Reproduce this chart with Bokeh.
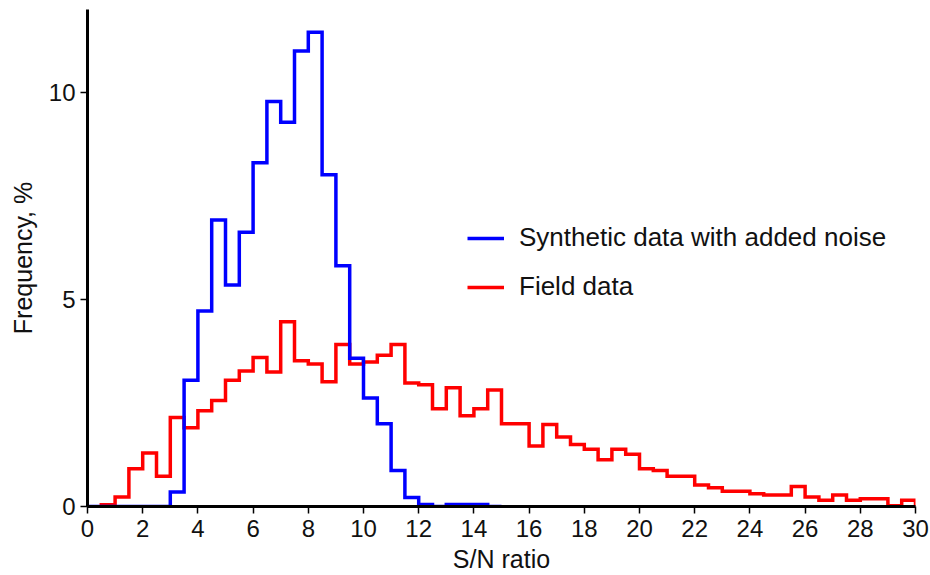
from bokeh.plotting import figure
from bokeh.models import Range1d, FixedTicker, Legend, LegendItem
from bokeh.embed import file_html
from bokeh.resources import INLINE

# Histogram settings: bins of 0.5 in S/N ratio
bin_width = 0.5

# Synthetic data with added noise: bins start at 0.0
synthetic_start = 0.0
synthetic_freq = [0.0, 0.0, 0.0, 0.0, 0.0, 0.0,
                  0.35, 3.05, 4.72, 6.92, 5.35, 6.62, 8.30, 9.78, 9.28, 11.00,
                  11.45, 8.01, 5.81, 3.58, 2.62, 2.00, 0.87, 0.22, 0.05, 0.00,
                  0.05, 0.05, 0.05, 0.00]

# Field data: bins start at 0.5
field_start = 0.5
field_freq = [0.04, 0.23, 0.91, 1.29, 0.73, 2.15, 1.90, 2.31, 2.56, 3.05,
              3.27, 3.60, 3.25, 4.46, 3.52, 3.44, 3.01, 3.91, 3.44, 3.49,
              3.65, 3.91, 2.98, 2.94, 2.36, 2.87, 2.19, 2.36, 2.81, 2.00,
              2.00, 1.46, 1.98, 1.68, 1.50, 1.38, 1.13, 1.38, 1.26, 0.91,
              0.87, 0.73, 0.73, 0.52, 0.45, 0.37, 0.37, 0.31, 0.28, 0.28,
              0.48, 0.23, 0.15, 0.28, 0.15, 0.19, 0.19, 0.02, 0.15]

x_ticks = list(range(0, 31, 2))
y_ticks = [0, 5, 10]

x_title = "S/N ratio"
y_title = "Frequency, %"
labels = ["Synthetic data with added noise", "Field data"]
FONT = "Liberation Sans"


def step_outline(start, width, values):
    """Outline of a histogram: rises from zero, steps across bins, drops back."""
    xs, ys = [start], [0.0]
    for i, v in enumerate(values):
        left = start + i * width
        xs += [left, left + width]
        ys += [v, v]
    xs.append(start + len(values) * width)
    ys.append(0.0)
    return xs, ys


p = figure(width=930, height=575, output_backend="svg", toolbar_location=None,
           x_range=Range1d(0, 30), y_range=Range1d(0, 12),
           min_border_left=87, min_border_right=15,
           min_border_top=9, min_border_bottom=69)
p.outline_line_color = None
p.xgrid.visible = False
p.ygrid.visible = False
p.background_fill_color = "white"
p.border_fill_color = "white"

fx, fy = step_outline(field_start, bin_width, field_freq)
sx, sy = step_outline(synthetic_start, bin_width, synthetic_freq)

r_field = p.line(fx, fy, line_color="#ff0000", line_width=3.5, line_join="miter")
r_syn = p.line(sx, sy, line_color="#0000ff", line_width=3.5, line_join="miter")

for ax in (p.xaxis[0], p.yaxis[0]):
    ax.axis_line_width = 3
    ax.axis_line_color = "black"
    ax.major_tick_line_color = "black"
    ax.major_tick_line_width = 1.5
    ax.major_tick_out = 7
    ax.major_tick_in = 0
    ax.minor_tick_line_color = None
    ax.major_label_text_font = FONT
    ax.major_label_text_font_size = "24px"
    ax.major_label_text_color = "#111111"
    ax.axis_label_text_font = FONT
    ax.axis_label_text_font_size = "25px"
    ax.axis_label_text_font_style = "normal"
    ax.axis_label_text_color = "#111111"

p.xaxis.ticker = FixedTicker(ticks=x_ticks)
p.yaxis.ticker = FixedTicker(ticks=y_ticks)
p.xaxis.axis_label = x_title
p.xaxis.major_label_standoff = 6
p.xaxis.axis_label_standoff = 5
p.yaxis.axis_label = y_title
p.yaxis.major_label_standoff = 5
p.yaxis.axis_label_standoff = 9

legend = Legend(items=[LegendItem(label=labels[0], renderers=[r_syn]),
                       LegendItem(label=labels[1], renderers=[r_field])],
                location=(380, 204))
legend.border_line_color = None
legend.background_fill_alpha = 0
legend.padding = 0
legend.margin = 0
legend.glyph_width = 37
legend.glyph_height = 30
legend.label_height = 30
legend.label_standoff = 15
legend.spacing = 18
legend.label_text_font = FONT
legend.label_text_font_size = "26px"
legend.label_text_color = "#111111"
p.add_layout(legend, "center")

open("out.html", "w").write(file_html(p, INLINE))
